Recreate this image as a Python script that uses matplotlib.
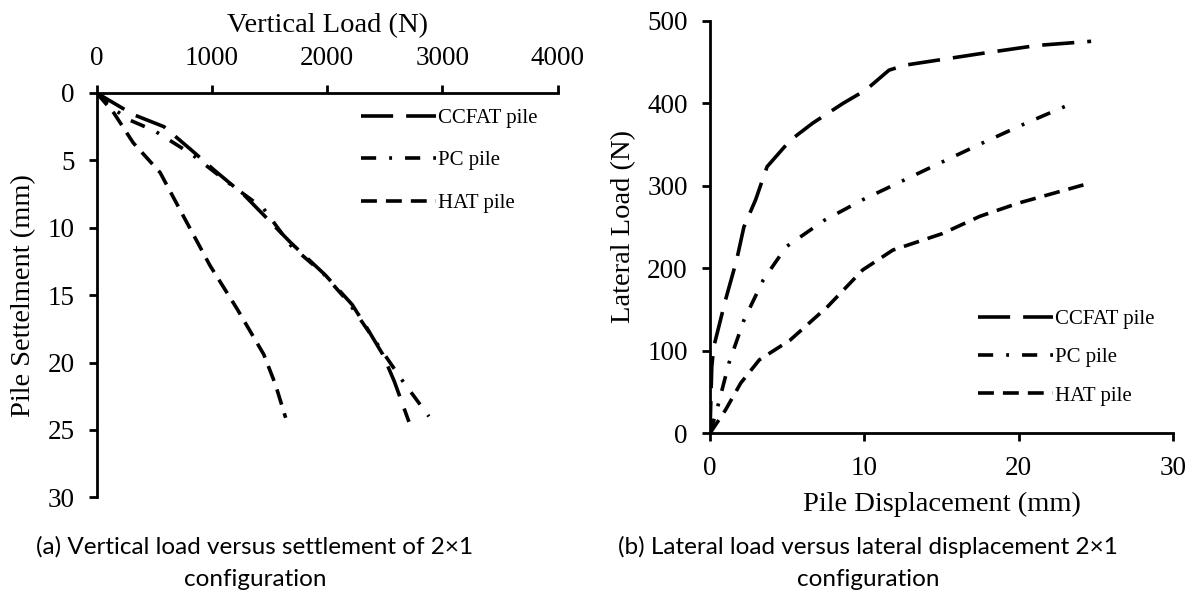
import matplotlib
matplotlib.use('Agg')
import matplotlib.pyplot as plt
from matplotlib import font_manager

# (a) vertical load (N) vs pile settlement (mm)
ccfat_load = [0, 317, 583, 817, 1017, 1283, 1683, 1983, 2217, 2350, 2483, 2583, 2710]
ccfat_sett = [0, 1.6, 2.5, 4.2, 5.7, 7.6, 11.1, 13.5, 15.7, 17.5, 19.4, 21.4, 24.4]
pc_load = [0, 150, 283, 500, 817, 1133, 1450, 1683, 1967, 2183, 2433, 2650, 2883]
pc_sett = [0, 1.2, 2.0, 2.8, 4.5, 6.6, 8.6, 11.3, 13.4, 15.5, 18.6, 21.3, 24.0]
hat_load = [0, 150, 317, 550, 750, 983, 1217, 1450, 1550, 1640]
hat_sett = [0, 1.5, 3.7, 5.9, 9.1, 12.8, 16.0, 19.4, 21.6, 24.1]

# (b) pile displacement (mm) vs lateral load (N)
ccfat_disp = [0, 0.12, 0.25, 1.0, 1.73, 2.2, 2.96, 3.7, 5.2, 6.67, 8.64, 10.1, 11.6, 12.6, 17.5, 21.2, 24.7]
ccfat_lat = [0, 81, 105, 161, 210, 250, 283, 323, 355, 376, 400, 416, 440, 446, 460, 470, 475]
pc_disp = [0, 0.5, 1.23, 2.2, 3.46, 4.94, 7.4, 9.9, 12.6, 15.3, 17.8, 20.5, 23.0]
pc_lat = [0, 32, 85, 137, 186, 226, 258, 283, 307, 331, 353, 376, 396]
hat_disp = [0, 1.0, 2.0, 3.2, 5.2, 7.65, 9.9, 11.85, 15.06, 17.5, 20.0, 24.2]
hat_lat = [0, 28, 61, 89, 113, 154, 198, 222, 242, 263, 279, 301]

labels = ['CCFAT pile', 'PC pile', 'HAT pile']
serif = 'Liberation Serif'

# caption font: something narrow like Calibri if we have it
names = {f.name for f in font_manager.fontManager.ttflist}
if 'Liberation Sans Narrow' in names:
    cap_font, cap_size = 'Liberation Sans Narrow', 18.5
else:
    cap_font, cap_size = 'Lato', 17.5

fig = plt.figure(figsize=(11.97, 5.96), dpi=100)
ax1 = fig.add_axes([0.0808, 0.1656, 0.3850, 0.6784])
ax2 = fig.add_axes([0.5931, 0.2730, 0.3868, 0.6923])

lw = 2.6
styles = [(0, (8.9, 3.6)), (0, (4.2, 3.6, 0.8, 3.6)), (0, (4.4, 2.5))]

ax1.plot(ccfat_load, ccfat_sett, color='black', lw=lw, linestyle=styles[0], label=labels[0])
ax1.plot(pc_load, pc_sett, color='black', lw=lw, linestyle=styles[1], label=labels[1])
ax1.plot(hat_load, hat_sett, color='black', lw=lw, linestyle=styles[2], label=labels[2])

ax2.plot(ccfat_disp, ccfat_lat, color='black', lw=lw, linestyle=styles[0], label=labels[0])
ax2.plot(pc_disp, pc_lat, color='black', lw=lw, linestyle=styles[1], label=labels[1])
ax2.plot(hat_disp, hat_lat, color='black', lw=lw, linestyle=styles[2], label=labels[2])

# left: x axis on top, y inverted
ax1.set_xlim(0, 4000)
ax1.set_ylim(30, 0)
ax1.set_xticks([0, 1000, 2000, 3000, 4000])
ax1.set_yticks([0, 5, 10, 15, 20, 25, 30])
ax1.xaxis.tick_top()
ax1.xaxis.set_label_position('top')
ax1.spines['bottom'].set_visible(False)
ax1.spines['right'].set_visible(False)
ax1.set_xlabel('Vertical Load (N)', fontsize=20.5, family=serif, labelpad=10)
ax1.set_ylabel('Pile Settelment (mm)', fontsize=20.5, family=serif, labelpad=8)

ax2.set_xlim(0, 30)
ax2.set_ylim(0, 500)
ax2.set_xticks([0, 10, 20, 30])
ax2.set_yticks([0, 100, 200, 300, 400, 500])
ax2.spines['top'].set_visible(False)
ax2.spines['right'].set_visible(False)
ax2.set_xlabel('Pile Displacement (mm)', fontsize=20.5, family=serif, labelpad=8)
ax2.set_ylabel('Lateral Load (N)', fontsize=20.5, family=serif, labelpad=8)

for ax in (ax1, ax2):
    ax.patch.set_visible(False)
    for s in ax.spines.values():
        s.set_linewidth(2.0)
    ax.tick_params(direction='out', length=6, width=2.0, pad=10, labelsize=19.5)
    for t in ax.get_xticklabels() + ax.get_yticklabels():
        t.set_family(serif)

ax1.legend(loc='upper left', bbox_to_anchor=(0.574, 0.962), frameon=False,
           prop={'family': serif, 'size': 15}, handlelength=3.6, handletextpad=0.1,
           labelspacing=1.1, borderpad=0, borderaxespad=0)
ax2.legend(loc='upper left', bbox_to_anchor=(0.579, 0.300), frameon=False,
           prop={'family': serif, 'size': 15}, handlelength=3.6, handletextpad=0.1,
           labelspacing=0.9, borderpad=0, borderaxespad=0)

fig.text(255 / 1197, 1 - 547 / 596, '(a) Vertical load versus settlement of 2×1',
         ha='center', va='center', fontsize=cap_size, family=cap_font)
fig.text(255 / 1197, 1 - 579 / 596, 'configuration',
         ha='center', va='center', fontsize=cap_size, family=cap_font)
fig.text(868 / 1197, 1 - 547 / 596, '(b) Lateral load versus lateral displacement 2×1',
         ha='center', va='center', fontsize=cap_size, family=cap_font)
fig.text(868 / 1197, 1 - 579 / 596, 'configuration',
         ha='center', va='center', fontsize=cap_size, family=cap_font)

fig.savefig('out.png', dpi=100)
